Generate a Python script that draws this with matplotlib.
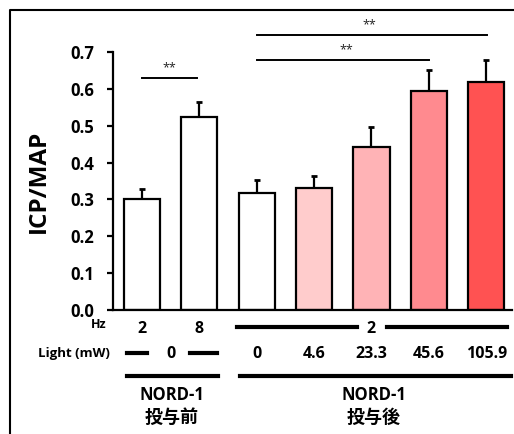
import matplotlib
matplotlib.use("Agg")
import matplotlib.pyplot as plt
from matplotlib.lines import Line2D
from matplotlib.transforms import blended_transform_factory

plt.rcParams['font.family'] = ['Open Sans', 'Noto Sans CJK JP', 'DejaVu Sans']

# data
means = [0.300, 0.523, 0.317, 0.331, 0.442, 0.594, 0.619]
errs = [0.028, 0.041, 0.036, 0.032, 0.054, 0.057, 0.059]
colors = ['white', 'white', 'white', '#ffcccc', '#ffb3b6', '#ff8a8f', '#ff5252']
hz_labels = ['2', '8']
light_labels = ['0', '4.6', '23.3', '45.6', '105.9']
group_names = ['NORD-1', 'NORD-1']
group_labels = ['投与前', '投与後']
yticks = [0.0, 0.1, 0.2, 0.3, 0.4, 0.5, 0.6, 0.7]

W, H = 514, 434
fig = plt.figure(figsize=(W / 100, H / 100), dpi=100)
ax = fig.add_axes([113 / W, 1 - 310 / H, (512 - 113) / W, (310 - 52) / H])

x = list(range(len(means)))
ax.bar(x, means, width=0.63, color=colors, edgecolor='black', linewidth=1.6, zorder=2)
ax.errorbar(x, means, yerr=[[0] * len(errs), errs], fmt='none', ecolor='black',
            elinewidth=1.6, capsize=2, capthick=2, zorder=1)

ax.set_xlim(-0.506, 6.45)
ax.set_ylim(0, 0.7)
ax.set_yticks(yticks)
ax.set_yticklabels(['%.1f' % v for v in yticks], fontsize=12, fontweight='bold')
ax.set_xticks([])
ax.tick_params(axis='y', direction='out', length=4.5, width=1.6, pad=9)
for s in ['top', 'right']:
    ax.spines[s].set_visible(False)
for s in ['left', 'bottom']:
    ax.spines[s].set_linewidth(1.6)
ax.set_ylabel('ICP/MAP', fontsize=17.5, fontweight='bold', labelpad=14)

# significance bars
def sig(x0, x1, y, ty, tx):
    ax.plot([x0, x1], [y, y], color='black', lw=1.4, clip_on=False)
    ax.text(tx, ty, '**', ha='center', va='center', fontsize=9, color='#222222', clip_on=False)

sig(0.0, 0.96, 0.629, 0.657, 0.48)
sig(2.0, 5.0, 0.678, 0.705, 3.57)
sig(2.0, 6.02, 0.747, 0.774, 3.97)

# rows under the axis
tr = blended_transform_factory(ax.transData, fig.transFigure)
def fy(py):
    return 1 - py / H

fs_val = 11.5
fig.text(107 / W, fy(325), 'Hz', ha='right', va='center', fontsize=9, fontweight='bold')
for xi, lab in zip([0, 1], hz_labels):
    ax.text(xi, fy(329), lab, transform=tr, ha='center', va='center', fontsize=fs_val, fontweight='bold')
ax.text(4, fy(329), '2', transform=tr, ha='center', va='center', fontsize=fs_val, fontweight='bold')
ax.add_line(Line2D([1.66, 3.75], [fy(327), fy(327)], transform=tr, color='black', lw=3, clip_on=False))
ax.add_line(Line2D([4.27, 6.37], [fy(327), fy(327)], transform=tr, color='black', lw=3, clip_on=False))

fig.text(110 / W, fy(353), 'Light (mW)', ha='right', va='center', fontsize=9.5, fontweight='bold')
ax.text(0.5, fy(354), '0', transform=tr, ha='center', va='center', fontsize=fs_val, fontweight='bold')
ax.add_line(Line2D([-0.26, 0.09], [fy(353), fy(353)], transform=tr, color='black', lw=3, clip_on=False))
ax.add_line(Line2D([0.84, 1.31], [fy(353), fy(353)], transform=tr, color='black', lw=3, clip_on=False))
for xi, lab in zip(range(2, 7), light_labels):
    ax.text(xi, fy(354), lab, transform=tr, ha='center', va='center', fontsize=fs_val, fontweight='bold')

ax.add_line(Line2D([-0.26, 1.33], [fy(376), fy(376)], transform=tr, color='black', lw=3, clip_on=False))
ax.add_line(Line2D([1.71, 6.43], [fy(376), fy(376)], transform=tr, color='black', lw=3, clip_on=False))
for xc, name, lab in zip([0.52, 4.04], group_names, group_labels):
    ax.text(xc, fy(395), name, transform=tr, ha='center', va='center', fontsize=12, fontweight='bold')
    ax.text(xc, fy(418), lab, transform=tr, ha='center', va='center', fontsize=13, fontweight='bold')

# frame around the picture
fig.add_artist(Line2D([10 / W, 10 / W, 1.0], [0.0, fy(10), fy(10)], transform=fig.transFigure,
                      color='black', lw=1.5))

fig.savefig('out.png', dpi=100)
